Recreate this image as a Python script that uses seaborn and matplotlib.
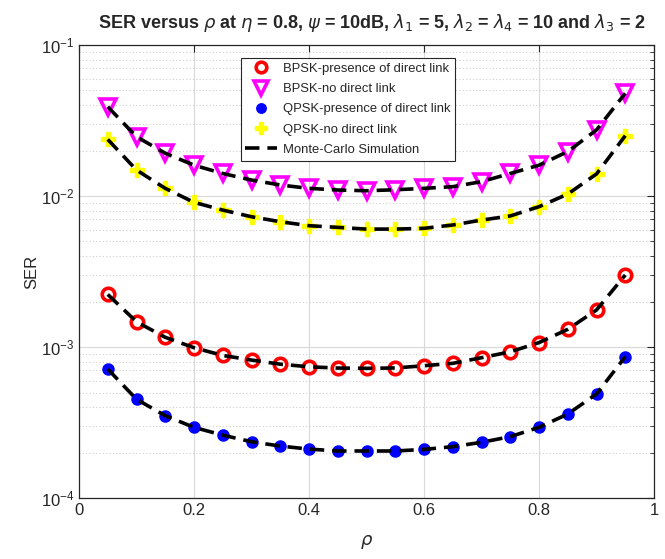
import numpy as np
import pandas as pd
import matplotlib
matplotlib.use("Agg")
import matplotlib.pyplot as plt
import seaborn as sns
from matplotlib.ticker import LogLocator, FixedLocator, NullFormatter
from matplotlib.lines import Line2D

rho = [0.05, 0.10, 0.15, 0.20, 0.25, 0.30, 0.35, 0.40, 0.45, 0.50,
       0.55, 0.60, 0.65, 0.70, 0.75, 0.80, 0.85, 0.90, 0.95]

bpsk_direct = [0.00223, 0.00147, 0.00116, 0.00099, 0.00088, 0.00082, 0.00077, 0.00074, 0.000726, 0.000723,
               0.000727, 0.000752, 0.00078, 0.00085, 0.00093, 0.00107, 0.00131, 0.00176, 0.0030]
bpsk_nodirect = [0.0390, 0.0247, 0.0192, 0.0160, 0.0141, 0.01276, 0.01183, 0.01124, 0.01096, 0.01084,
                 0.0110, 0.01124, 0.01153, 0.01245, 0.0141, 0.0160, 0.0197, 0.0274, 0.0479]
qpsk_direct = [0.000715, 0.000451, 0.000351, 0.000294, 0.000261, 0.000236, 0.000221, 0.000211, 0.000205, 0.000205,
               0.000205, 0.000210, 0.000219, 0.000234, 0.000255, 0.000294, 0.000360, 0.000489, 0.000863]
qpsk_nodirect = [0.0237, 0.01486, 0.01124, 0.00908, 0.00807, 0.00729, 0.00676, 0.00636, 0.0062, 0.00604,
                 0.00604, 0.00611, 0.00643, 0.00693, 0.00738, 0.0085, 0.0103, 0.0140, 0.0251]

labels = ["BPSK-presence of direct link", "BPSK-no direct link",
          "QPSK-presence of direct link", "QPSK-no direct link",
          "Monte-Carlo Simulation"]
x_ticks = [0, 0.2, 0.4, 0.6, 0.8, 1]
x_ticklabels = ["0", "0.2", "0.4", "0.6", "0.8", "1"]

sns.set_style("white")
plt.rcParams['font.family'] = ['Liberation Sans', 'DejaVu Sans']
plt.rcParams['mathtext.fontset'] = 'dejavusans'

fig = plt.figure(figsize=(6.65, 5.59), dpi=100)
ax = fig.add_axes([0.1188, 0.109, 0.8647, 0.8105])

styles = [
    dict(y=bpsk_direct, marker='o', ms=9, mfc='none', mec='red', mew=2.6, color='red'),
    dict(y=bpsk_nodirect, marker='v', ms=12, mfc='none', mec='magenta', mew=2.6, color='magenta'),
    dict(y=qpsk_direct, marker='o', ms=8, mfc='blue', mec='blue', mew=1, color='blue'),
    dict(y=qpsk_nodirect, marker='P', ms=10, mfc='yellow', mec='yellow', mew=1, color='yellow'),
]
handles = []
for st, lab in zip(styles, labels[:4]):
    df = pd.DataFrame({"rho": rho, "ser": st["y"]})
    sns.lineplot(data=df, x="rho", y="ser", ax=ax, linestyle='', marker=st["marker"],
                 markersize=st["ms"], markerfacecolor=st["mfc"], markeredgecolor=st["mec"],
                 markeredgewidth=st["mew"], color=st["color"], zorder=3)
    handles.append(Line2D([], [], linestyle='', marker=st["marker"], markersize=st["ms"] * 0.85,
                          markerfacecolor=st["mfc"], markeredgecolor=st["mec"],
                          markeredgewidth=st["mew"], label=lab))

for st in styles:
    df = pd.DataFrame({"rho": rho, "ser": st["y"]})
    sns.lineplot(data=df, x="rho", y="ser", ax=ax, color='black', linewidth=2.6,
                 dashes=False, zorder=4)
    ax.lines[-1].set_dashes([4, 2.2])
handles.append(Line2D([], [], color='black', linewidth=2.6, dashes=[4, 2.2], label=labels[4]))

ax.set_yscale('log')
ax.set_xlim(0, 1)
ax.set_ylim(1e-4, 1e-1)
ax.xaxis.set_major_locator(FixedLocator(x_ticks))
ax.set_xticklabels(x_ticklabels)
ax.yaxis.set_major_locator(LogLocator(base=10, numticks=10))
ax.yaxis.set_minor_locator(LogLocator(base=10, subs=np.arange(2, 10), numticks=20))
ax.yaxis.set_minor_formatter(NullFormatter())

ax.grid(True, which='major', axis='both', color='#d9d9d9', linewidth=0.8, linestyle='-')
ax.grid(True, which='minor', axis='y', color='#d0d0d0', linewidth=0.8, linestyle=(0, (1, 2)))
ax.set_axisbelow(True)

ax.tick_params(which='both', direction='in', top=True, right=True, colors='#262626',
               labelsize=12, labelcolor='#262626')
ax.tick_params(which='major', length=5, width=0.8)
ax.tick_params(which='minor', length=3, width=0.6)
for s in ax.spines.values():
    s.set_color('#262626')
    s.set_linewidth(0.9)

ax.set_xlabel(r'$\rho$', fontsize=13, color='#262626', labelpad=11)
ax.set_ylabel('SER', fontsize=12, color='#262626', labelpad=1)
ax.set_title(r'SER versus $\rho$ at $\eta$ = 0.8, $\psi$ = 10dB, $\lambda_1$ = 5, $\lambda_2$ = $\lambda_4$ = 10 and $\lambda_3$ = 2',
             fontsize=13, fontweight='bold', pad=12, x=0.51)

leg = ax.legend(handles=handles, loc='upper center', bbox_to_anchor=(0.468, 0.985), fontsize=9.4,
                frameon=True, fancybox=False, edgecolor='#262626', framealpha=1,
                borderpad=0.35, labelspacing=0.62, handlelength=2.4, handletextpad=0.5)
leg.get_frame().set_linewidth(0.8)

fig.savefig("out.png", dpi=100)
